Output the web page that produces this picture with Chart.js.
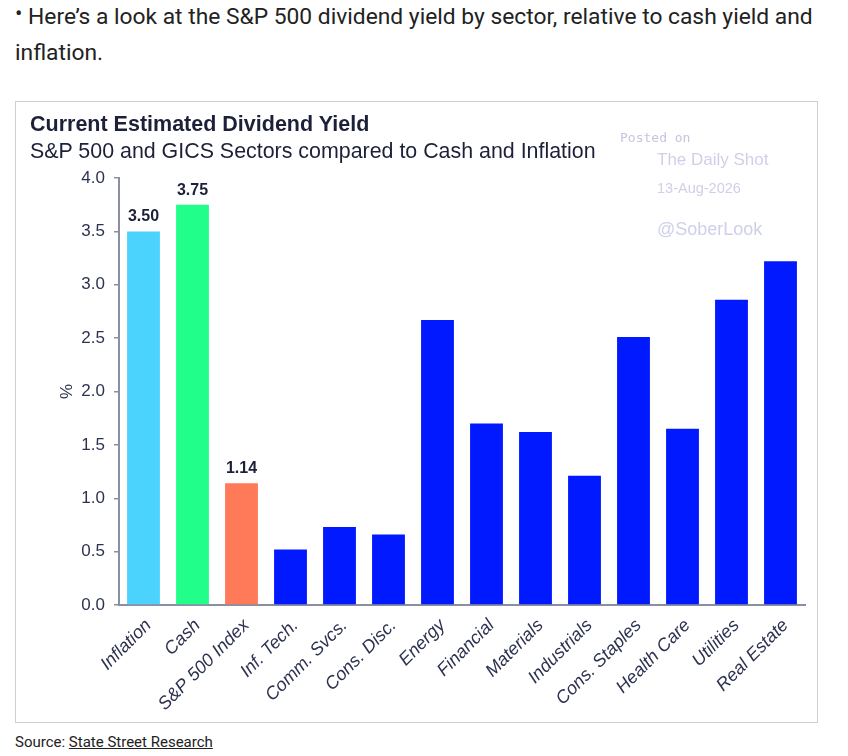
<!DOCTYPE html>
<html>
<head>
<meta charset="utf-8">
<script src="https://cdn.jsdelivr.net/npm/chart.js@4.4.1/dist/chart.umd.min.js"></script>
<style>
  body { margin: 0; background: #fff; width: 848px; height: 756px; position: relative; overflow: hidden; font-family: Roboto, sans-serif; }
  .lead { position: absolute; left: 15px; top: -4px; width: 815px; font-size: 22.8px; line-height: 36px; color: #222; }
  .lead .dot { font-size: 22px; vertical-align: 3px; }
  .frame { position: absolute; left: 15px; top: 101px; width: 803px; height: 622px; border: 1px solid #cfcfcf; box-sizing: border-box; }
  .wrap { position: absolute; left: 16px; top: 102px; width: 801px; height: 620px; }
  .title { position: absolute; left: 30px; top: 112px; font: bold 21.5px "Liberation Sans", Arial, sans-serif; color: #1c2038; }
  .subtitle { position: absolute; left: 30px; top: 139px; font: 21.4px "Liberation Sans", Arial, sans-serif; color: #1c2038; }
  .wm { position: absolute; color: #cfd0e8; font-family: "Liberation Sans", Arial, sans-serif; white-space: nowrap; }
  .source { position: absolute; left: 15px; top: 733px; font-size: 15px; color: #222; }
  .source a { color: #222; text-decoration: underline; }
</style>
</head>
<body>
<div class="lead"><span class="dot">•</span> Here’s a look at the S&amp;P 500 dividend yield by sector, relative to cash yield and inflation.</div>

<div class="frame"></div>
<div class="wrap"><canvas id="chart"></canvas></div>

<div class="title">Current Estimated Dividend Yield</div>
<div class="subtitle">S&amp;P 500 and GICS Sectors compared to Cash and Inflation</div>

<div class="wm" style="left:620px; top:130px; font: 13px 'DejaVu Sans Mono', monospace; color:#c4c5e0;">Posted on</div>
<div class="wm" style="left:657px; top:150px; font-size:17px;">The Daily Shot</div>
<div class="wm" style="left:657px; top:180px; font-size:14.5px;">13-Aug-2026</div>
<div class="wm" style="left:657px; top:219px; font-size:18px;">@SoberLook</div>

<div class="source">Source: <a href="#">State Street Research</a></div>

<script>
// данные
const categories = ['Inflation', 'Cash', 'S&P 500 Index', 'Inf. Tech.', 'Comm. Svcs.', 'Cons. Disc.', 'Energy',
  'Financial', 'Materials', 'Industrials', 'Cons. Staples', 'Health Care', 'Utilities', 'Real Estate'];
const yieldValues = [3.50, 3.75, 1.14, 0.52, 0.73, 0.66, 2.67, 1.70, 1.62, 1.21, 2.51, 1.65, 2.86, 3.22];
const showValueLabel = [true, true, true, false, false, false, false, false, false, false, false, false, false, false];
const yTickValues = [0, 0.5, 1, 1.5, 2, 2.5, 3, 3.5, 4];
const yTickLabels = ['0.0', '0.5', '1.0', '1.5', '2.0', '2.5', '3.0', '3.5', '4.0'];

const sectorBlue = '#0019fe';
const barColors = categories.map((c, i) => i === 0 ? '#4cd3fd' : i === 1 ? '#21fe8a' : i === 2 ? '#ff7a58' : sectorBlue);

const axisColor = '#8a8fa3';
const textColor = '#2d3250';
const family = '"Liberation Sans", Arial, sans-serif';

// подписи значений над столбцами
const valueLabels = {
  id: 'valueLabels',
  afterDatasetsDraw(chart) {
    const ctx = chart.ctx;
    const meta = chart.getDatasetMeta(0);
    ctx.save();
    ctx.font = 'bold 16px ' + family;
    ctx.fillStyle = '#1c2038';
    ctx.textAlign = 'center';
    ctx.textBaseline = 'alphabetic';
    meta.data.forEach((bar, i) => {
      if (showValueLabel[i]) ctx.fillText(yieldValues[i].toFixed(2), bar.x, bar.y - 10);
    });
    ctx.restore();
  }
};

new Chart(document.getElementById('chart'), {
  type: 'bar',
  data: {
    labels: categories,
    datasets: [{
      data: yieldValues,
      backgroundColor: barColors,
      borderWidth: 0,
      categoryPercentage: 1,
      barPercentage: 0.67
    }]
  },
  options: {
    responsive: true,
    maintainAspectRatio: false,
    animation: false,
    layout: { padding: { left: 41, right: 12, top: 76, bottom: 0 } },
    plugins: { legend: { display: false }, tooltip: { enabled: false } },
    scales: {
      y: {
        min: 0,
        max: 4,
        afterBuildTicks: s => { s.ticks = yTickValues.map(v => ({ value: v })); },
        afterFit: s => { s.width = 62; },
        ticks: { callback: (v, i) => yTickLabels[i], color: textColor, font: { size: 17, family }, padding: 9 },
        grid: { drawOnChartArea: false, drawTicks: true, tickLength: 5, color: axisColor, lineWidth: 1.5 },
        border: { display: true, color: axisColor, width: 2 },
        title: { display: true, text: '%', color: textColor, font: { size: 17, family }, padding: { top: 0, bottom: 0 } }
      },
      x: {
        afterFit: s => { s.height = 117; },
        grid: { display: false, drawTicks: false },
        border: { display: true, color: axisColor, width: 2 },
        ticks: {
          autoSkip: false, maxRotation: 45, minRotation: 45, padding: 10, labelOffset: 5,
          color: textColor, font: { size: 18, style: 'italic', family }
        }
      }
    }
  },
  plugins: [valueLabels]
});
</script>
</body>
</html>
